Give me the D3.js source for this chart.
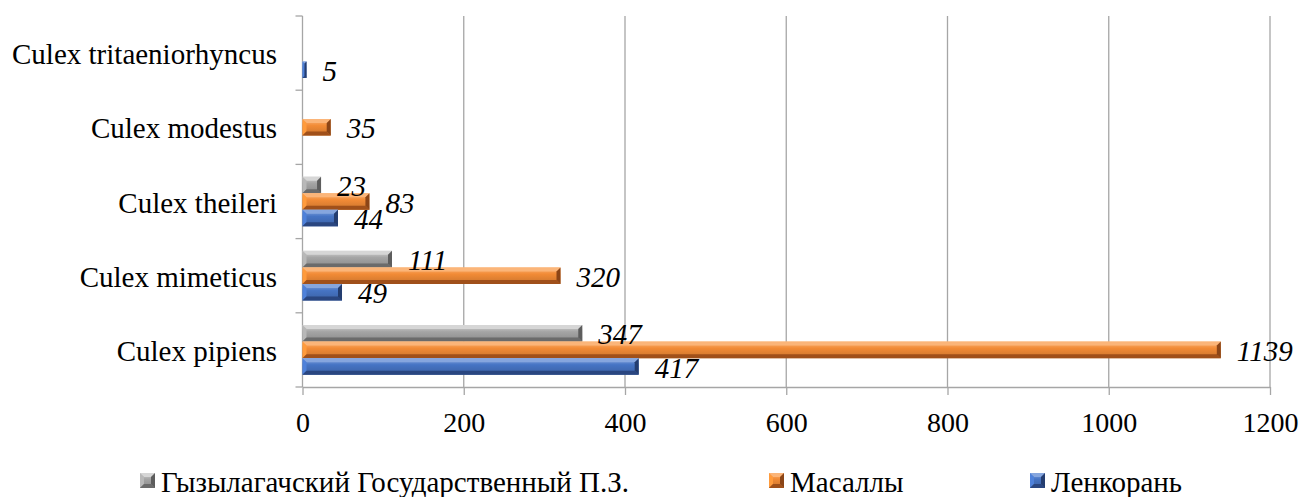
<!DOCTYPE html>
<html>
<head>
<meta charset="utf-8">
<script src="https://cdn.jsdelivr.net/npm/d3@7"></script>
<style>
  body { margin: 0; background: #fff; }
  svg text { font-family: "Liberation Serif", "Times New Roman", serif; fill: #000; }
</style>
</head>
<body>
<div id="chart"></div>
<script>
// data
const categories = ["Culex tritaeniorhyncus", "Culex modestus", "Culex theileri", "Culex mimeticus", "Culex pipiens"];
const seriesNames = ["Гызылагачский Государственный П.З.", "Масаллы", "Ленкорань"];
const gyzylagach = [null, null, 23, 111, 347];
const masally = [null, 35, 83, 320, 1139];
const lenkoran = [5, null, 44, 49, 417];
const xTicks = [0, 200, 400, 600, 800, 1000, 1200];

const seriesValues = [gyzylagach, masally, lenkoran];
const palette = [
    { base: "#a5a5a5", light: "#d6d6d6", dark: "#6b6b6b" },
    { base: "#f28b36", light: "#fbb579", dark: "#a0501a" },
    { base: "#4674c4", light: "#86a6de", dark: "#2a4680" }
];

const width = 1302, height = 497;
const plotLeft = 302.5, plotRight = 1270, plotTop = 16, plotBottom = 387;

const svg = d3.select("#chart").append("svg")
    .attr("width", width)
    .attr("height", height);

const defs = svg.append("defs");
palette.forEach((p, i) => {
    const g = defs.append("linearGradient")
        .attr("id", "grad" + i)
        .attr("x1", 0).attr("y1", 0).attr("x2", 0).attr("y2", 1);
    g.append("stop").attr("offset", "0%").attr("stop-color", p.light);
    g.append("stop").attr("offset", "40%").attr("stop-color", p.base);
    g.append("stop").attr("offset", "100%").attr("stop-color", d3.color(p.base).darker(0.5));
});

const x = d3.scaleLinear().domain([0, 1200]).range([plotLeft, plotRight]);
const y = d3.scaleBand().domain(categories).range([plotTop, plotBottom]);
const yInner = d3.scaleBand().domain(d3.range(3)).range([0, y.bandwidth()]).paddingOuter(0.74);

///////////////// GRID /////////////////
svg.append("g")
    .selectAll("line")
    .data(xTicks.slice(1))
    .join("line")
    .attr("x1", d => x(d)).attr("x2", d => x(d))
    .attr("y1", plotTop).attr("y2", plotBottom)
    .attr("stroke", "#a6a6a6")
    .attr("stroke-width", 1.3);

///////////////// X AXIS /////////////////
const xAxis = svg.append("g")
    .attr("transform", `translate(0, ${plotBottom})`)
    .call(d3.axisBottom(x).tickValues(xTicks).tickFormat(d3.format("d"))
        .tickSize(8).tickPadding(17).tickSizeOuter(0));
xAxis.select(".domain").attr("stroke", "#a6a6a6").attr("stroke-width", 1.3);
xAxis.selectAll(".tick line").attr("stroke", "#a6a6a6").attr("stroke-width", 1.3);
xAxis.selectAll(".tick text")
    .style("font-family", "'Liberation Serif', serif")
    .style("font-size", "28px");

///////////////// Y AXIS /////////////////
const yBounds = categories.map(c => y(c)).concat([plotBottom]);
svg.append("line")
    .attr("x1", plotLeft).attr("x2", plotLeft)
    .attr("y1", plotTop).attr("y2", plotBottom)
    .attr("stroke", "#a6a6a6").attr("stroke-width", 1.3);
svg.append("g")
    .selectAll("line")
    .data(yBounds)
    .join("line")
    .attr("x1", plotLeft - 7).attr("x2", plotLeft)
    .attr("y1", d => d).attr("y2", d => d)
    .attr("stroke", "#a6a6a6").attr("stroke-width", 1.3);

svg.append("g")
    .selectAll("text")
    .data(categories)
    .join("text")
    .attr("x", 277)
    .attr("y", d => y(d) + y.bandwidth() / 2 + 1)
    .attr("dy", "0.35em")
    .attr("text-anchor", "end")
    .style("font-size", "29px")
    .text(d => d);

///////////////// BARS /////////////////
function bevelBar(g, x0, y0, w, h, si) {
    const p = palette[si];
    const b = Math.min(4, w / 2, h / 2);
    const x1 = x0 + w, y1 = y0 + h;
    g.append("rect")
        .attr("x", x0).attr("y", y0).attr("width", w).attr("height", h)
        .attr("fill", `url(#grad${si})`);
    // top
    g.append("polygon")
        .attr("points", [[x0, y0], [x1, y0], [x1 - b, y0 + b], [x0 + b, y0 + b]].join(" "))
        .attr("fill", p.light);
    // left
    g.append("polygon")
        .attr("points", [[x0, y0], [x0 + b, y0 + b], [x0 + b, y1 - b], [x0, y1]].join(" "))
        .attr("fill", d3.color(p.base).brighter(0.3));
    // bottom
    g.append("polygon")
        .attr("points", [[x0, y1], [x0 + b, y1 - b], [x1 - b, y1 - b], [x1, y1]].join(" "))
        .attr("fill", p.dark);
    // right
    g.append("polygon")
        .attr("points", [[x1, y0], [x1, y1], [x1 - b, y1 - b], [x1 - b, y0 + b]].join(" "))
        .attr("fill", d3.color(p.dark).darker(0.4));
}

const bars = svg.append("g");
const labels = svg.append("g");
seriesValues.forEach((vals, si) => {
    vals.forEach((v, ci) => {
        if (v == null) return;
        const c = categories[ci];
        const y0 = y(c) + yInner(si);
        const h = yInner.bandwidth();
        bevelBar(bars.append("g"), x(0), y0, x(v) - x(0), h, si);
        labels.append("text")
            .attr("x", x(v) + 16)
            .attr("y", y0 + h / 2 + 1)
            .attr("dy", "0.35em")
            .style("font-size", "29px")
            .style("font-style", "italic")
            .text(v);
    });
});

///////////////// LEGEND /////////////////
const legendX = [140, 769, 1030];
const legend = svg.append("g");
seriesNames.forEach((name, i) => {
    const g = legend.append("g");
    bevelBar(g, legendX[i], 473, 15, 15, i);
    g.append("text")
        .attr("x", legendX[i] + 21)
        .attr("y", 482)
        .attr("dy", "0.35em")
        .style("font-size", "29px")
        .text(name);
});
</script>
</body>
</html>
